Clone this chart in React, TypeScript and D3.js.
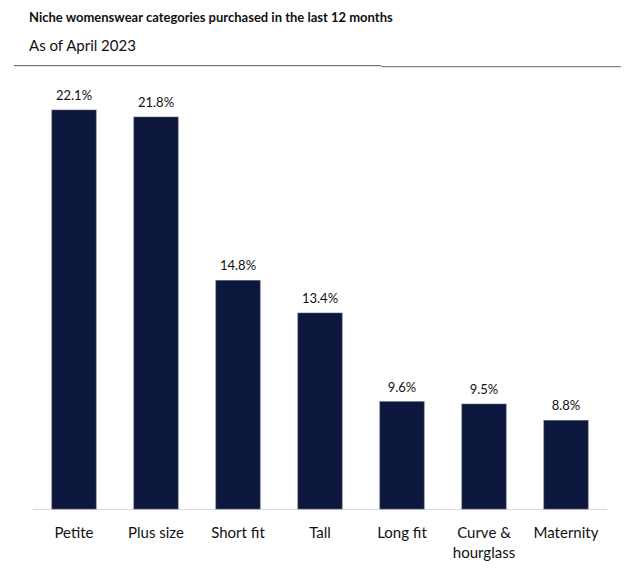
import React from "react";
import * as d3 from "d3";

const categories: string[][] = [
  ["Petite"],
  ["Plus size"],
  ["Short fit"],
  ["Tall"],
  ["Long fit"],
  ["Curve &", "hourglass"],
  ["Maternity"],
];
const values: number[] = [22.1, 21.8, 14.8, 13.4, 9.6, 9.5, 8.8];
const title = "Niche womenswear categories purchased in the last 12 months";
const subtitle = "As of April 2023";

const W = 643;
const H = 573;

export default function App() {
  const x = d3
    .scaleBand<number>()
    .domain(values.map((_, i) => i))
    .range([33, 607])
    .paddingInner(0.46)
    .paddingOuter(0.23);
  const y = d3.scaleLinear().domain([5, 22.1]).range([509, 110]);
  const font = "Lato, 'Open Sans', sans-serif";
  return (
    <svg
      width={W}
      height={H}
      style={{ position: "absolute", left: 0, top: 0, background: "#fff" }}
    >
      <text x={29} y={22} fontFamily={font} fontWeight={700} fontSize={13} fill="#111">
        {title}
      </text>
      <text x={29} y={51} fontFamily={font} fontSize={15} fill="#111">
        {subtitle}
      </text>
      <line x1={14} x2={381} y1={65.7} y2={65.7} stroke="#555" strokeWidth={1} />
      <line x1={381} x2={621} y1={66.7} y2={66.7} stroke="#888" strokeWidth={1.3} />
      <line x1={33} x2={607} y1={509.5} y2={509.5} stroke="#d9d9e0" strokeWidth={1} />
      {values.map((v, i) => {
        const bx = x(i)!;
        const bw = x.bandwidth();
        return (
          <g key={i}>
            <rect
              x={bx}
              y={y(v)}
              width={bw}
              height={y.range()[0] - y(v)}
              fill="#0d163d"
              stroke="#5a607c"
              strokeWidth={0.6}
            />
            <text
              x={bx + bw / 2}
              y={y(v) - 10}
              textAnchor="middle"
              fontFamily={font}
              fontSize={13}
              fill="#111"
            >
              {v.toFixed(1) + "%"}
            </text>
            {categories[i].map((line, j) => (
              <text
                key={j}
                x={bx + bw / 2}
                y={538 + j * 20}
                textAnchor="middle"
                fontFamily={font}
                fontSize={15}
                fill="#111"
              >
                {line}
              </text>
            ))}
          </g>
        );
      })}
    </svg>
  );
}
